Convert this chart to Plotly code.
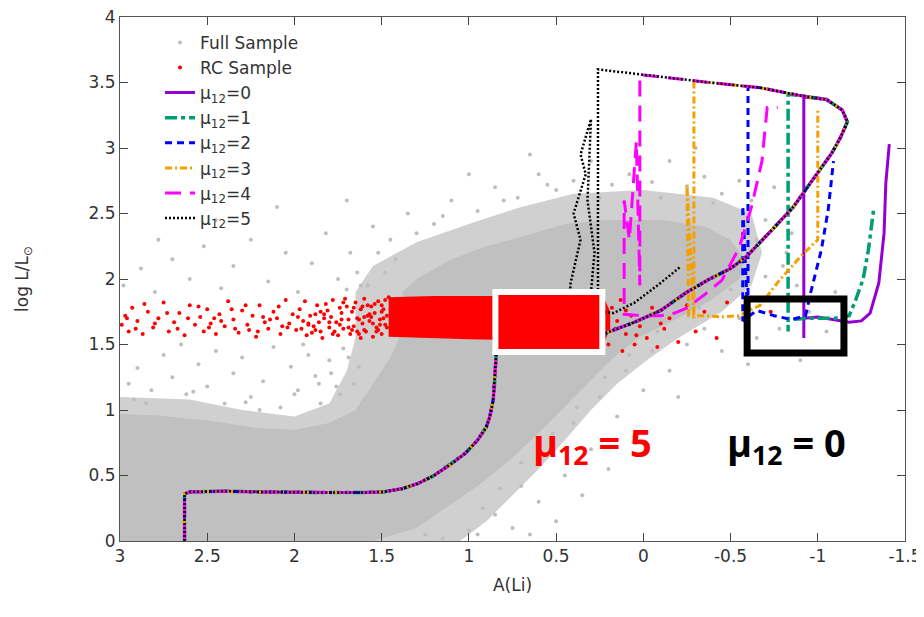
import plotly.graph_objects as go

# axis ticks
x_ticks = [3, 2.5, 2, 1.5, 1, 0.5, 0, -0.5, -1, -1.5]
x_tick_text = ["3", "2.5", "2", "1.5", "1", "0.5", "0", "-0.5", "-1", "-1.5"]
y_ticks = [0, 0.5, 1, 1.5, 2, 2.5, 3, 3.5, 4]
y_tick_text = ["0", "0.5", "1", "1.5", "2", "2.5", "3", "3.5", "4"]

# dense part of the full sample (outline of the solid grey cloud)
core_x = [3.0, 3.0, 1.55, 1.3, 1.1, 0.95, 0.78, 0.62, 0.47, 0.32, 0.17, 0.02, -0.2, -0.4, -0.55,
          -0.58, -0.5, -0.35, -0.1, 0.2, 0.45, 0.7, 0.9, 1.1, 1.3, 1.38, 1.4, 1.45, 1.55, 1.65,
          1.8, 2.0, 2.2, 2.5, 2.8, 3.0]
core_y = [0.0, 0.0, 0.0, 0.1, 0.28, 0.42, 0.6, 0.8, 1.0, 1.2, 1.4, 1.56, 1.7, 1.85, 2.0,
          2.15, 2.3, 2.4, 2.45, 2.45, 2.42, 2.32, 2.25, 2.15, 2.0, 1.9, 1.55, 1.4, 1.2, 1.0,
          0.9, 0.85, 0.86, 0.92, 0.96, 0.97]
# thinner rim around it
halo_x = [3.0, 3.0, 1.05, 0.9, 0.75, 0.6, 0.45, 0.3, 0.15, -0.02, -0.2, -0.45, -0.62, -0.68,
          -0.62, -0.4, 0.0, 0.4, 0.7, 1.0, 1.3, 1.55, 1.65, 1.65, 1.7, 1.8, 2.0, 2.3, 2.6, 3.0]
halo_y = [1.1, 0.0, 0.0, 0.15, 0.35, 0.55, 0.77, 1.0, 1.2, 1.38, 1.55, 1.75, 1.95, 2.2,
          2.5, 2.62, 2.68, 2.65, 2.55, 2.42, 2.28, 2.1, 1.9, 1.55, 1.3, 1.05, 0.95, 1.0, 1.08, 1.1]

# scattered stars of the full sample
full_x = [2.95, 2.9, 2.82, 2.75, 2.7, 2.62, 2.55, 2.5, 2.45, 2.4, 2.35, 2.3, 2.25, 2.18, 2.12,
          2.08, 2.02, 1.98, 1.92, 1.88, 1.85, 1.8, 1.76, 1.72, 2.65, 2.2, 2.85, 1.95,
          2.98, 2.88, 2.8, 2.7, 2.6, 2.52, 2.42, 2.35, 2.25, 2.15, 2.05, 1.98, 1.9, 1.82,
          1.75, 1.68, 1.62, 1.55, 2.45, 2.1, 1.7, 2.78,
          1.45, 1.35, 1.2, 1.1, 0.95, 0.85, 0.72, 0.6, 0.5, 0.4, 0.3, 0.18, 0.08, -0.05,
          -0.15, -0.25, -0.35, -0.45, -0.55, -0.62, -0.7, -0.75, -0.85, -0.8, 0.65, 1.0, -0.3,
          0.95, 0.85, 0.75, 0.7, 0.6, 0.55, 0.45, 0.4, 0.3, 0.25, 0.15, 0.1, 0.0, -0.05,
          -0.15, -0.25, -0.35, -0.45, -0.55, -0.65, -0.72, -0.78, -0.88, -0.95, -1.05, -1.1,
          -0.9, -0.6, 0.5, 0.35, 0.2, 0.05, -0.2, 0.65, 1.25, 1.15,
          2.92, 2.58, 2.28, 2.0, 1.86, 1.79, 1.74, 1.69, 1.66, 1.63, 1.6, 1.7, 1.64,
          1.58, 1.52, 1.48, 1.42, 1.3, 1.15, 0.8, 0.55, 0.25, -0.1, -0.4, -0.65,
          1.0, 0.92, 0.82, 0.7, 0.52, 0.38, 0.22, 0.08, -0.08, -0.32, -0.5, -0.7, -0.82]
full_y = [1.2, 1.32, 1.15, 1.42, 1.25, 1.12, 1.35, 1.18, 1.45, 1.05, 1.28, 1.4, 1.1, 1.22, 1.48,
          1.02, 1.33, 1.15, 1.42, 1.26, 1.05, 1.38, 1.18, 1.47, 1.5, 1.0, 1.05, 1.5,
          1.95, 2.08, 1.9, 2.15, 2.0, 2.25, 1.93, 2.1, 2.3, 1.98, 2.2, 1.9, 2.12, 2.35,
          2.0, 2.2, 1.95, 2.4, 2.45, 2.55, 2.6, 2.3,
          2.3, 2.5, 2.42, 2.6, 2.52, 2.7, 2.62, 2.8, 2.68, 2.75, 2.9, 2.72, 2.8, 2.74,
          2.9, 2.7, 2.78, 2.65, 2.75, 2.6, 2.45, 2.7, 2.35, 2.1, 2.95, 2.8, 3.0,
          0.05, 0.2, 0.1, 0.42, 0.3, 0.65, 0.5, 0.9, 0.7, 1.1, 0.95, 1.3, 1.15, 1.45,
          1.3, 1.5, 1.62, 1.45, 1.7, 1.55, 1.85, 1.62, 1.95, 1.75, 1.6, 1.9,
          1.38, 1.35, 0.15, 0.35, 0.55, 0.8, 1.1, 0.05, 0.05, 0.02,
          1.08, 1.14, 1.06, 1.12, 1.2, 1.28, 1.12, 1.4, 1.2, 1.33, 1.08, 1.92, 2.05,
          1.95, 2.2, 2.05, 2.15, 2.35, 2.48, 2.6, 2.72, 2.62, 2.62, 2.58, 2.3,
          0.08, 0.25, 0.4, 0.6, 0.82, 1.02, 1.25, 1.42, 1.6, 1.78, 1.92, 2.02, 2.2]

# red clump sample: crowded block plus scattered stars
rc_block_x = [1.46, 1.46, 1.2, 0.9, 0.5, 0.3, 0.22, 0.19, 0.19, 0.22, 0.6, 1.0, 1.46]
rc_block_y = [1.56, 1.86, 1.87, 1.87, 1.87, 1.86, 1.84, 1.75, 1.62, 1.53, 1.53, 1.54, 1.56]

rc_x = [2.99, 2.97, 2.95, 2.93, 2.9, 2.87, 2.84, 2.81, 2.78, 2.75, 2.72, 2.69, 2.66, 2.63, 2.6,
        2.57, 2.54, 2.52, 2.5, 2.48,
        2.45, 2.43, 2.4, 2.38, 2.35, 2.32, 2.3, 2.27, 2.24, 2.22, 2.2, 2.17, 2.15, 2.12, 2.1,
        2.08, 2.05, 2.03, 2.01, 1.99, 2.36, 2.26, 2.18, 2.07, 2.46,
        1.97, 1.95, 1.93, 1.91, 1.89, 1.87, 1.85, 1.83, 1.81, 1.8, 1.78, 1.76, 1.75, 1.73, 1.72,
        1.7, 1.69, 1.94, 1.88, 1.84, 1.79, 1.74, 1.71, 1.96, 1.86, 1.82, 1.77, 1.9, 1.74, 1.68,
        1.67, 1.66, 1.65, 1.64, 1.63, 1.62, 1.61, 1.6, 1.59, 1.58, 1.57, 1.56, 1.55, 1.54, 1.53,
        1.52, 1.51, 1.5, 1.49, 1.48, 1.47, 1.46, 1.64, 1.58, 1.52, 1.5, 1.6, 1.55, 1.62, 1.48,
        2.96, 2.91, 2.86, 2.8, 2.73, 2.67, 2.61, 2.55, 2.49, 2.42, 2.34, 2.28, 2.21, 2.14, 2.09,
        2.04, 1.98, 1.92, 1.88, 1.83, 1.78, 1.73, 1.69, 1.66, 1.63, 1.6, 1.57, 1.54, 1.51, 1.49,
        1.92, 1.85, 1.8, 1.72, 1.67, 1.61, 1.56, 1.53, 1.5, 1.47,
        0.2, 0.16, 0.12, 0.1, 0.07, 0.05, 0.02, -0.02, -0.05, -0.08, -0.12, -0.15, -0.2, -0.25,
        -0.3, -0.35, -0.42, -0.48, -0.73, 0.18, 0.13, -0.6, 0.15, 0.1, 0.04, -0.1]
rc_y = [1.65, 1.72, 1.6, 1.78, 1.68, 1.58, 1.75, 1.63, 1.7, 1.82, 1.6, 1.67, 1.74, 1.57, 1.8,
        1.65, 1.71, 1.6, 1.77, 1.66,
        1.58, 1.73, 1.64, 1.83, 1.69, 1.59, 1.76, 1.65, 1.72, 1.56, 1.8, 1.67, 1.62, 1.75, 1.7,
        1.58, 1.84, 1.66, 1.73, 1.61, 1.77, 1.61, 1.71, 1.64, 1.7,
        1.77, 1.68, 1.57, 1.72, 1.64, 1.8, 1.6, 1.7, 1.76, 1.63, 1.84, 1.67, 1.57, 1.74, 1.62,
        1.79, 1.69, 1.83, 1.73, 1.55, 1.71, 1.65, 1.85, 1.62, 1.67, 1.81, 1.6, 1.59, 1.78, 1.58,
        1.75, 1.64, 1.82, 1.7, 1.58, 1.77, 1.66, 1.85, 1.6, 1.72, 1.68, 1.79, 1.56, 1.74, 1.63,
        1.83, 1.69, 1.58, 1.77, 1.65, 1.72, 1.86, 1.6, 1.8, 1.61, 1.75, 1.71, 1.66, 1.55, 1.84,
        1.7, 1.62, 1.81, 1.66, 1.74, 1.62, 1.7, 1.79, 1.63, 1.68, 1.62, 1.8, 1.6, 1.69, 1.79,
        1.63, 1.71, 1.65, 1.61, 1.73, 1.58, 1.69, 1.63, 1.78, 1.69, 1.61, 1.73, 1.81, 1.65, 1.7,
        1.66, 1.75, 1.67, 1.82, 1.61, 1.79, 1.71, 1.6, 1.8, 1.63,
        1.5, 1.62, 1.45, 1.58, 1.72, 1.5, 1.64, 1.55, 1.78, 1.48, 1.62, 1.7, 1.52, 1.8,
        1.6, 1.75, 1.55, 1.82, 1.75, 1.78, 1.84, 1.45, 1.68, 1.76, 1.57, 1.66]

# common part of the tracks, up to the RGB tip
pre_x = [2.63, 2.63, 2.6, 2.4, 2.2, 2.0, 1.8, 1.6, 1.49, 1.38, 1.29, 1.2, 1.1, 1.02, 0.95, 0.9,
         0.88, 0.86, 0.85, 0.845, 0.84, 0.7, 0.5, 0.35, 0.25, 0.21, 0.05, -0.1, -0.25, -0.38,
         -0.5, -0.59, -0.72, -0.86, -0.94, -1.01, -1.08, -1.13, -1.17]
pre_y = [0.0, 0.36, 0.375, 0.38, 0.375, 0.37, 0.37, 0.37, 0.375, 0.40, 0.44, 0.50, 0.59, 0.67,
         0.77, 0.87, 0.95, 1.08, 1.25, 1.4, 1.52, 1.52, 1.53, 1.54, 1.56, 1.59, 1.67, 1.76, 1.9,
         2.0, 2.08, 2.17, 2.35, 2.55, 2.7, 2.83, 2.96, 3.08, 3.2]

# after the tip, one list per mu12
post_x = {
    0: [-1.14, -1.05, -0.92, -0.92, -0.92, -1.0, -1.1, -1.18, -1.25, -1.3, -1.35, -1.38, -1.39, -1.41],
    1: [-1.14, -1.05, -0.9, -0.83, -0.83, -0.83, -0.95, -1.1, -1.18, -1.22, -1.26, -1.29, -1.32],
    2: [-1.14, -1.05, -0.9, -0.67, -0.6, -0.6, -0.57, -0.57, -0.65, -0.75, -0.85, -0.93, -0.96,
        -1.02, -1.06, -1.09],
    3: [-1.14, -1.05, -0.9, -0.67, -0.38, -0.29, -0.29, -0.25, -0.26, -0.35, -0.45, -0.55, -0.67,
        -0.78, -0.9, -0.96, -1.0, -1.0],
    4: [-1.14, -1.05, -0.9, -0.67, -0.38, 0.0, 0.02, 0.02, 0.04, 0.08, 0.11, 0.11, 0.0, -0.1,
        -0.18, -0.25, -0.35, -0.45, -0.55, -0.62, -0.68, -0.71, -0.77],
    5: [-1.14, -1.05, -0.9, -0.67, -0.38, 0.0, 0.25, 0.26, 0.26, 0.40, 0.42, 0.36, 0.40, 0.33,
        0.36, 0.30, 0.32, 0.28, 0.30, 0.26, 0.17, 0.05, -0.08, -0.21],
}
post_y = {
    0: [3.29, 3.37, 3.39, 1.55, 1.70, 1.71, 1.69, 1.67, 1.68, 1.74, 1.97, 2.35, 2.73, 3.03],
    1: [3.29, 3.37, 3.40, 3.41, 1.60, 1.69, 1.70, 1.70, 1.72, 1.85, 2.0, 2.22, 2.53],
    2: [3.29, 3.37, 3.40, 3.46, 3.47, 1.66, 2.56, 1.68, 1.76, 1.72, 1.69, 1.72, 1.9, 2.22, 2.53, 2.9],
    3: [3.29, 3.37, 3.40, 3.46, 3.5, 3.51, 1.70, 2.72, 1.72, 1.72, 1.71, 1.72, 1.8, 1.99, 2.17,
        2.25, 2.3, 3.3],
    4: [3.29, 3.37, 3.40, 3.46, 3.5, 3.56, 3.56, 1.95, 3.05, 2.3, 2.6, 1.73, 1.72, 1.72, 1.74,
        1.78, 1.88, 1.99, 2.24, 2.55, 2.9, 3.31, 3.31],
    5: [3.29, 3.37, 3.40, 3.46, 3.5, 3.56, 3.6, 3.6, 1.78, 1.75, 1.95, 2.3, 2.5, 2.8, 2.95, 3.22,
        2.6, 2.2, 1.9, 1.75, 1.74, 1.82, 1.95, 2.09],
}

colors = {0: "#9400d3", 1: "#009e73", 2: "#0000ff", 3: "#f5a000", 4: "#ff00ff", 5: "#000000"}
dashes = {0: "solid", 1: "12px,4px,4px,4px", 2: "7px,5px", 3: "7px,3px,2px,3px",
          4: "16px,9px", 5: "2px,2px"}
widths = {0: 3, 1: 3.5, 2: 3, 3: 3, 4: 3, 5: 2.5}

fig = go.Figure()
fig.add_trace(go.Scatter(x=halo_x, y=halo_y, mode="lines", fill="toself", fillcolor="#d0d0d0",
                         line=dict(width=0), showlegend=False, hoverinfo="skip"))
fig.add_trace(go.Scatter(x=core_x, y=core_y, mode="lines", fill="toself", fillcolor="#c0c0c0",
                         line=dict(width=0), showlegend=False, hoverinfo="skip"))
fig.add_trace(go.Scatter(x=full_x, y=full_y, mode="markers", name="Full Sample",
                         marker=dict(color="#bebebe", size=4)))
fig.add_trace(go.Scatter(x=rc_block_x, y=rc_block_y, mode="lines", fill="toself", fillcolor="#ff0000",
                         line=dict(width=0), showlegend=False, hoverinfo="skip"))
fig.add_trace(go.Scatter(x=rc_x, y=rc_y, mode="markers", name="RC Sample",
                         marker=dict(color="#ff0000", size=4)))

for mu in range(6):
    fig.add_trace(go.Scatter(x=pre_x + post_x[mu], y=pre_y + post_y[mu], mode="lines",
                             name="μ<sub>12</sub>=%d" % mu,
                             line=dict(color=colors[mu], width=widths[mu], dash=dashes[mu])))

# highlighted boxes
fig.add_shape(type="rect", x0=0.848, x1=0.235, y0=1.443, y1=1.90, layer="above",
              fillcolor="#ff0000", line=dict(color="white", width=6))
fig.add_shape(type="rect", x0=-0.595, x1=-1.15, y0=1.435, y1=1.847, layer="above",
              line=dict(color="black", width=7))

fig.add_annotation(x=0.29, y=0.74, text="<b>μ<sub>12</sub> = 5</b>", showarrow=False,
                   font=dict(family="Open Sans", size=38, color="#ff0000"))
fig.add_annotation(x=-0.82, y=0.74, text="<b>μ<sub>12</sub> = 0</b>", showarrow=False,
                   font=dict(family="Open Sans", size=38, color="black"))

axis_style = dict(showline=True, linecolor="#555", linewidth=1, mirror="ticks", ticks="inside",
                  ticklen=8, tickcolor="#444", showgrid=False, zeroline=False, automargin=False,
                  ticklabeloverflow="allow",
                  tickfont=dict(family="DejaVu Sans", size=17, color="#333"))

fig.update_xaxes(range=[3, -1.5], tickmode="array", tickvals=x_ticks, ticktext=x_tick_text,
                 title=dict(text="A(Li)", font=dict(family="DejaVu Sans", size=17, color="#333"),
                            standoff=13), **axis_style)
fig.update_yaxes(range=[0, 4], tickmode="array", tickvals=y_ticks, ticktext=y_tick_text,
                 title=dict(text="log L/L<sub>⊙</sub>",
                            font=dict(family="DejaVu Sans", size=17, color="#333"), standoff=55),
                 **axis_style)

fig.update_layout(
    width=924, height=617,
    margin=dict(l=112, r=27, t=9, b=84),
    plot_bgcolor="white", paper_bgcolor="white",
    legend=dict(x=0.051, y=0.985, xanchor="left", yanchor="top", bgcolor="rgba(0,0,0,0)",
                font=dict(family="DejaVu Sans", size=17, color="#333"), tracegroupgap=0),
)

fig.write_html("out.html")
